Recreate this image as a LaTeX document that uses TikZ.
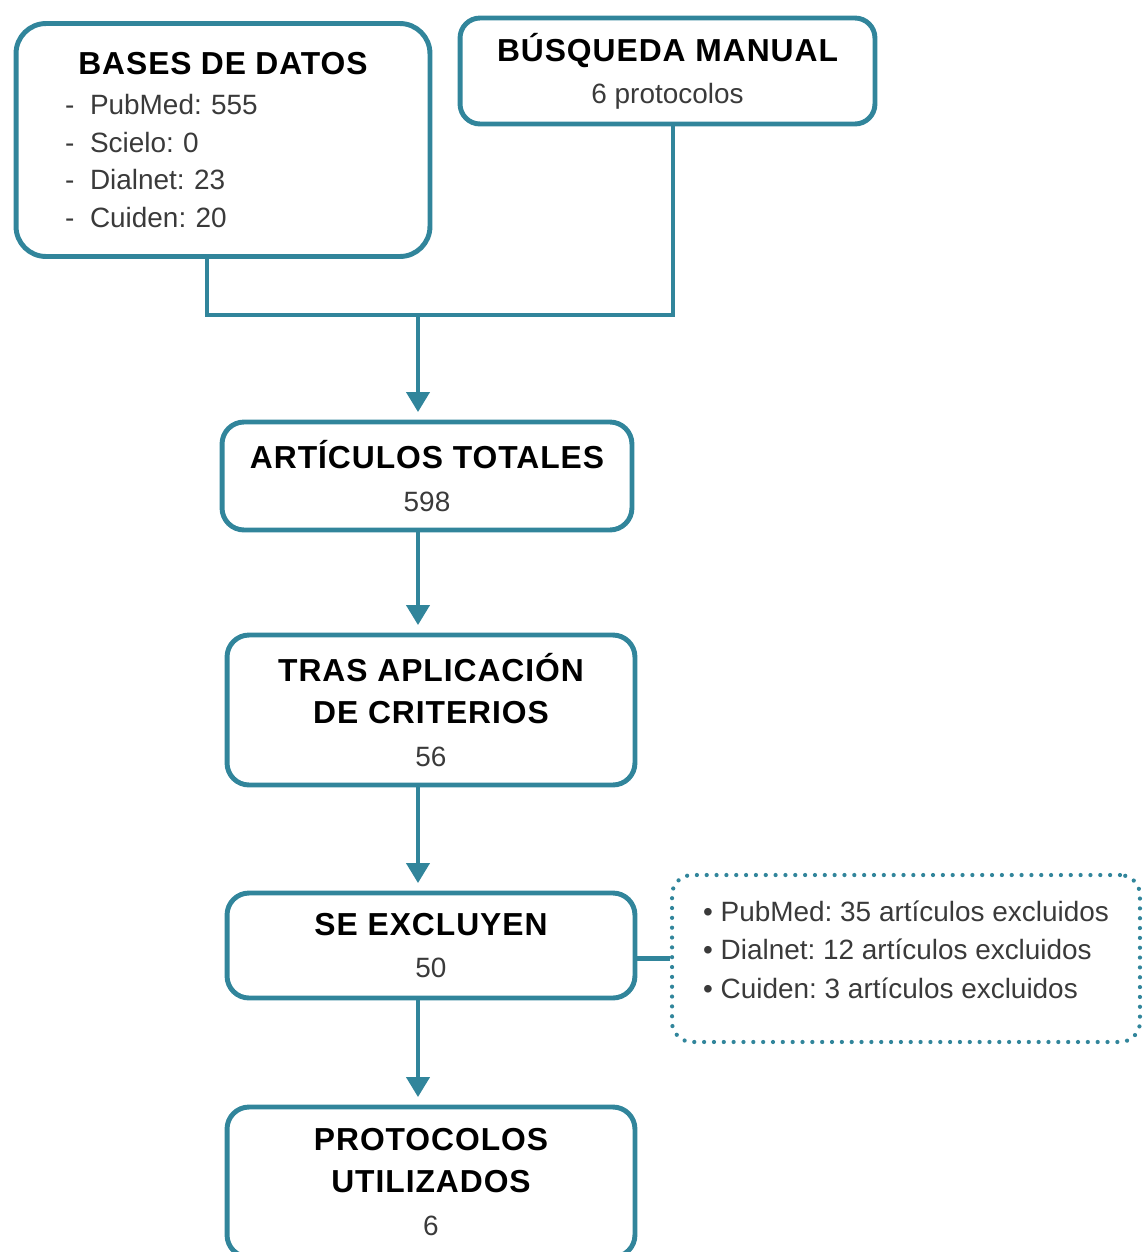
\documentclass[tikz,border=0pt]{standalone}
\usepackage{fontspec}
\setmainfont{Liberation Sans}
\newfontfamily\titfam{Liberation Sans}[LetterSpace=3.0]
\usepackage{tikz}
\usetikzlibrary{arrows.meta}
\definecolor{azul}{RGB}{49,133,155}
\definecolor{gristexto}{RGB}{58,58,58}
\newcommand{\tit}[1]{{\titfam\bfseries\color{black}\fontsize{18.1}{24}\selectfont #1}}
\newcommand{\guion}{\makebox[0.5cm][l]{-}}
\frenchspacing

\begin{document}
\begin{tikzpicture}[x=0.02cm,y=-0.02cm,
    caja/.style={draw=azul,line width=2.8pt,rounded corners=0.44cm,align=center,
        text=gristexto,font=\fontsize{15.9}{24}\selectfont,inner sep=0pt},
    linea/.style={draw=azul,line width=2.3pt},
    flecha/.style={linea,-{Triangle[width=0.46cm,length=0.4cm]},shorten >=0.15cm},
    puntos/.style={draw=azul,line width=2.4pt,line cap=round,dash pattern=on 0pt off 5.6pt,
        rounded corners=0.4cm,align=left,text=gristexto,inner sep=0pt,
        font=\fontsize{15.9}{22.1}\selectfont}]
    \useasboundingbox (0,0) rectangle (1143,1252);
    %%% DIAGRAMA DE FLUJO %%%
    % busqueda %
    \node[caja,minimum width=8.28cm,minimum height=4.66cm,rounded corners=0.6cm,
        text width=6.32cm,align=left,font=\fontsize{15.9}{21.5}\selectfont] (bases) at (223,140)
        {\makebox[6.32cm]{\tit{BASES DE DATOS}}\\[1.2pt]
        \guion PubMed: 555\\
        \guion Scielo: 0\\
        \guion Dialnet: 23\\
        \guion Cuiden: 20};
    \node[caja,minimum width=8.3cm,minimum height=2.12cm,rounded corners=0.4cm] (busqueda) at (667.5,71)
        {\tit{BÚSQUEDA MANUAL}\\6 protocolos};
    % cajas centrales %
    \node[caja,minimum width=8.2cm,minimum height=2.16cm] (totales) at (427,476)
        {\tit{ARTÍCULOS TOTALES}\\598};
    \node[caja,minimum width=8.16cm,minimum height=3.0cm] (criterios) at (431,710)
        {\tit{TRAS APLICACIÓN}\\\tit{DE CRITERIOS}\\56};
    \node[caja,minimum width=8.16cm,minimum height=2.1cm] (excluyen) at (431,945.5)
        {\tit{SE EXCLUYEN}\\50};
    \node[caja,minimum width=8.16cm,minimum height=3.0cm] (protocolos) at (431,1182)
        {\tit{PROTOCOLOS}\\\tit{UTILIZADOS}\\6};
    % excluidos %
    \node[puntos,minimum width=9.36cm,minimum height=3.34cm] (excluidos) at (906,958.5)
        {• PubMed: 35 artículos excluidos\\
        • Dialnet: 12 artículos excluidos\\
        • Cuiden: 3 artículos excluidos\\[-0.42cm]\mbox{}};
    % conectores %
    \coordinate (union) at (418,315);
    \draw[linea] ([xshift=-0.32cm]bases.south) |- (union) -| ([xshift=0.11cm]busqueda.south);
    \draw[flecha] (union) -- (union |- totales.north);
    \draw[flecha] (union |- totales.south) -- (union |- criterios.north);
    \draw[flecha] (union |- criterios.south) -- (union |- excluyen.north);
    \draw[flecha] (union |- excluyen.south) -- (union |- protocolos.north);
    \draw[linea] (excluyen.east |- excluidos.west) -- (excluidos.west);
\end{tikzpicture}
\end{document}
